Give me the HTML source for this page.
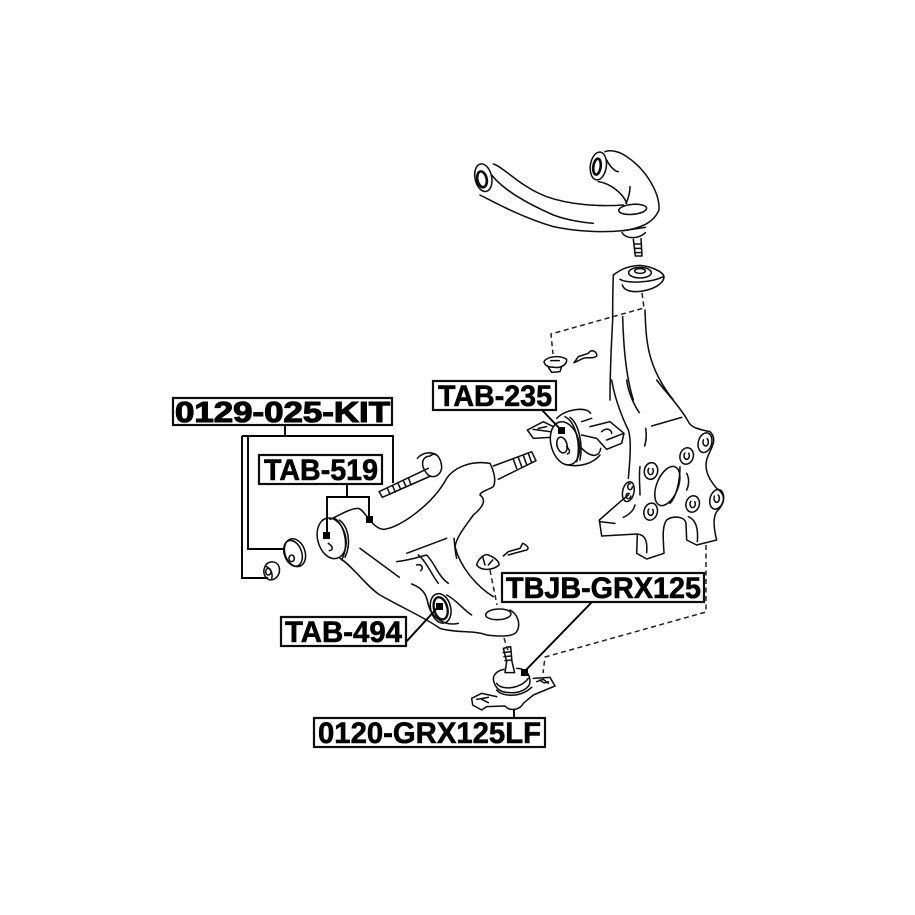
<!DOCTYPE html>
<html><head><meta charset="utf-8"><style>
html,body{margin:0;padding:0;background:#fff}
svg{display:block}
.l path,.l ellipse,.l circle{fill:none;stroke:#111;stroke-width:4.6;stroke-linecap:round;stroke-linejoin:round}
.l .h{stroke-dasharray:38 14}
.d{fill:none;stroke:#222;stroke-width:1.5;stroke-dasharray:5 3.5}
.c{fill:none;stroke:#000;stroke-width:1.9}
.b{fill:#fff;stroke:#111;stroke-width:2.2}
text{font-family:"Liberation Sans",sans-serif;font-weight:bold;fill:#000;stroke:#000;stroke-width:.6}
</style></head><body>
<svg width="915" height="915" viewBox="0 0 915 915" xmlns="http://www.w3.org/2000/svg">
<defs><filter id="s" x="-2%" y="-2%" width="104%" height="104%"><feGaussianBlur stdDeviation="0.35"/></filter></defs>
<rect width="915" height="915" fill="#fff"/>
<g filter="url(#s)">
<!-- upper arm + knuckle top -->
<g class="l" transform="translate(460,140) scale(.33333)">
<path d="M100,72C130,80 180,140 260,170C330,195 420,200 490,195"/>
<path d="M95,105C130,150 200,190 280,225C320,240 370,248 400,250"/>
<path d="M60,165C100,185 180,230 280,260C350,275 430,278 490,272C540,265 580,250 597,210C600,160 560,90 500,50C480,35 450,28 435,35"/>
<path d="M415,125C450,130 490,160 500,190M510,140C510,160 505,175 498,190M440,60C450,80 465,95 475,95"/>
<ellipse cx="70" cy="113" rx="25" ry="42" transform="rotate(-12 70 113)"/>
<ellipse cx="66" cy="118" rx="14" ry="24" transform="rotate(-12 66 118)" style="stroke-width:8"/>
<ellipse cx="415" cy="78" rx="24" ry="42" transform="rotate(8 415 78)"/>
<ellipse cx="411" cy="80" rx="11" ry="24" transform="rotate(8 411 80)" style="stroke-width:8"/>
<ellipse cx="518" cy="208" rx="42" ry="15" transform="rotate(-5 518 208)"/>
<path d="M486,278C500,298 535,298 556,278M490,272L556,262"/>
<path d="M520,298L526,348L546,348L543,296M522,312L544,312M523,325L545,325M524,338L546,338"/>
<path d="M460,405C480,390 500,378 540,376C570,378 610,395 612,410C612,430 580,452 530,455C500,455 490,445 487,435"/>
<path d="M480,418C500,430 570,430 610,410"/>
<ellipse cx="540" cy="398" rx="34" ry="16"/><ellipse cx="540" cy="393" rx="16" ry="7"/>
<path d="M460,405C458,450 458,500 458,540C455,600 450,680 450,780M488,530C490,600 495,700 520,780M555,510C558,600 560,680 640,780"/>
<path d="M252,665C262,648 300,645 320,658C322,675 300,685 285,682C265,682 255,678 252,665ZM265,682L275,697L300,695L305,680M272,662L298,662"/>
<path d="M342,668L355,650L385,640C395,625 412,635 410,648C400,658 380,650 370,655L342,668"/>
</g>
<path class="d" d="M642,293L644,308L551,334L553,354"/>
<!-- knuckle lower -->
<g class="l" transform="translate(500,380) scale(.33333)">
<path d="M335,0C345,60 370,120 385,150C395,180 390,240 385,295M380,0C385,40 405,80 418,98M470,0C500,40 540,80 565,125C575,145 600,148 630,155C650,175 640,195 625,225C610,260 620,290 650,325C680,345 675,370 650,395C640,410 640,440 650,480L590,495L560,480L558,430C555,410 520,405 500,420C485,440 490,480 492,520L440,537L410,520L412,462L305,468L298,420L355,370L385,345"/>
<path d="M455,138L545,112M437,145C440,165 438,185 434,198M420,260C416,290 420,320 420,345M405,375C400,395 385,405 370,412M298,425L345,430M412,462C440,465 442,490 440,518M565,410C590,420 595,450 592,485M540,260C540,300 530,350 510,370M560,280C570,300 565,320 560,330"/>
<ellipse cx="502" cy="318" rx="32" ry="62" transform="rotate(22 502 318)"/>
<ellipse cx="453" cy="273" rx="20" ry="25" transform="rotate(10 453 273)"/><ellipse class="h" cx="452" cy="273" rx="8" ry="11"/>
<ellipse cx="560" cy="228" rx="20" ry="25" transform="rotate(15 560 228)"/><ellipse class="h" cx="560" cy="227" rx="8" ry="11"/>
<ellipse cx="615" cy="188" rx="20" ry="30" transform="rotate(15 615 188)"/><ellipse class="h" cx="617" cy="186" rx="8" ry="12"/>
<ellipse cx="650" cy="358" rx="20" ry="30" transform="rotate(15 650 358)"/><ellipse class="h" cx="650" cy="355" rx="8" ry="12"/>
<ellipse cx="578" cy="372" rx="20" ry="25" transform="rotate(15 578 372)"/><ellipse class="h" cx="578" cy="372" rx="8" ry="11"/>
<ellipse cx="452" cy="395" rx="20" ry="26" transform="rotate(15 452 395)"/><ellipse class="h" cx="452" cy="395" rx="8" ry="11"/>
<ellipse cx="385" cy="335" rx="17" ry="30" transform="rotate(12 385 335)"/><ellipse class="h" cx="390" cy="320" rx="7" ry="9"/><ellipse class="h" cx="385" cy="348" rx="7" ry="8"/>
<!-- TAB-235 bushing and brackets -->
<path d="M150,172L100,175L82,150L130,125L160,140M100,148L150,155M115,145L140,140"/>
<path d="M270,140L330,125L372,160L365,190L320,208L290,175L245,165M320,180L372,160M305,155C320,140 335,150 335,160"/>
<path d="M245,125L275,115M170,115C200,85 260,80 272,100M245,205C280,240 300,225 302,205M205,255C240,262 280,250 300,225"/>
<ellipse cx="195" cy="190" rx="42" ry="66" transform="rotate(-15 195 190)"/>
<path d="M195,110C225,125 245,190 230,245M210,112C235,130 250,190 240,240"/>
<ellipse cx="186" cy="195" rx="15" ry="24" transform="rotate(-15 186 195)"/>
<path d="M200,200C210,210 212,218 202,222"/>
</g>
<!-- lower arm -->
<g class="l" transform="translate(300,440) scale(.33333)">
<path d="M90,238C120,225 150,205 175,205C195,210 215,265 250,268C300,265 400,190 440,115C460,85 510,60 570,70C580,90 590,120 580,140C565,150 540,155 540,165C560,180 550,200 520,225C495,260 470,290 465,320C480,380 530,440 580,470"/>
<path d="M120,355C160,380 200,440 240,465C300,500 370,530 420,565C470,580 520,570 560,585C600,590 640,590 650,575C665,550 650,520 630,510"/>
<ellipse cx="595" cy="523" rx="38" ry="16" transform="rotate(-3 595 523)"/>
<ellipse cx="95" cy="295" rx="42" ry="62" transform="rotate(-15 95 295)"/>
<path d="M105,235C130,255 150,310 125,360M118,240C145,260 155,310 135,352M85,310C100,320 100,330 88,332"/>
<path d="M180,325L298,412M320,340L440,295M290,365C330,360 360,350 380,345C405,370 415,410 445,430M355,345C380,365 395,405 415,430M462,295C465,320 465,335 470,355M350,375C365,370 372,385 362,392"/>
<path d="M335,432C370,445 380,465 385,495C395,530 430,560 475,550M440,465C470,480 490,510 515,525"/>
<ellipse cx="422" cy="505" rx="30" ry="45" transform="rotate(-15 422 505)"/>
<ellipse cx="422" cy="505" rx="20" ry="34" transform="rotate(-15 422 505)" style="stroke-width:7"/>
<!-- bolt -->
<path d="M237,155L385,85M247,172L392,108M238,156L247,172M262,145L270,163M278,138L286,156M294,130L302,148M310,122L318,140M326,115L332,132"/>
<path d="M390,48C410,30 425,60 425,85C420,110 395,118 380,100C360,75 365,50 390,48Z"/>
<path d="M352,55C370,35 395,35 410,45"/>
<!-- stud -->
<path d="M580,78L695,35L708,62L595,118M640,58L650,85M655,52L665,80M670,46L680,74M685,40L695,68"/>
<!-- nut and pin -->
<path d="M530,375C535,355 555,340 565,345C580,350 600,365 597,375C580,390 545,395 530,375ZM548,350L555,375M578,360L565,375"/>
<path d="M610,348L625,335L660,325L668,310C680,315 690,325 680,330L650,338L625,345"/>
</g>
<path class="d" d="M490,570L497,605"/>
<!-- washer & nut -->
<g class="l" transform="translate(165,390) scale(.33333)">
<ellipse cx="390" cy="488" rx="30" ry="43" transform="rotate(-20 390 488)"/>
<ellipse cx="384" cy="490" rx="26" ry="40" transform="rotate(-20 384 490)"/>
<ellipse cx="380" cy="505" rx="8" ry="10"/>
<path d="M300,530C305,512 335,510 342,530C348,550 335,570 315,570C298,565 292,545 300,530Z"/>
<path d="M305,530C315,535 325,550 320,565"/>
<ellipse cx="310" cy="545" rx="8" ry="10"/>
</g>
<!-- ball joint -->
<g class="l" transform="translate(300,600) scale(.33333)">
<path d="M610,145L632,140L636,185L644,218L615,218L620,185ZM610,158L632,155M612,170L634,168M615,182L635,180"/>
<path d="M612,208C590,212 580,225 580,238C585,265 600,278 630,278C660,280 690,265 690,245C690,220 675,205 650,205"/>
<path d="M590,250C600,270 660,270 685,235M590,270C605,290 660,295 695,262"/>
<path d="M590,290L545,280L515,295L518,315L545,330L560,320L615,318C630,335 660,330 670,310L700,285L765,258L750,232L700,235"/>
<path d="M530,298L565,292M545,298L565,308M710,245L730,238L745,250M720,240C730,250 735,250 745,245"/>
</g>
<path class="d" d="M706,545L706,612L545,657L543,673"/>
<path class="d" d="M504,638L508,650"/>
</g>
<!-- connectors -->
<g class="c">
<path d="M285,425V436M242,436H393V483M248,436V549H285M242,436V578H268"/>
<path d="M347,484V497M327,535V497H369V519"/>
<path d="M542,410L562,431"/>
<path d="M406,642L439,606"/>
<path d="M592,602L524,672"/>
<path d="M514,709V717"/>
</g>
<g fill="#000">
<rect x="323" y="532" width="7" height="7"/>
<rect x="366" y="516" width="7" height="7"/>
<rect x="558" y="427" width="7" height="7"/>
<rect x="436" y="603" width="7" height="7"/>
<rect x="521" y="669" width="7" height="7"/>
</g>
<!-- labels -->
<g filter="url(#s)">
<rect class="b" x="173" y="398" width="219" height="27"/>
<text x="175" y="422" font-size="29" textLength="215" lengthAdjust="spacingAndGlyphs" style="stroke-width:1.1">0129-025-KIT</text>
<rect class="b" x="259" y="455" width="123" height="29"/>
<text x="264" y="480" font-size="30" textLength="114" lengthAdjust="spacingAndGlyphs">TAB-519</text>
<rect class="b" x="433" y="381" width="123" height="29"/>
<text x="438" y="406" font-size="30" textLength="114" lengthAdjust="spacingAndGlyphs">TAB-235</text>
<rect class="b" x="281" y="617" width="125" height="29"/>
<text x="285" y="642" font-size="30" textLength="117" lengthAdjust="spacingAndGlyphs">TAB-494</text>
<rect class="b" x="502" y="573" width="202" height="29"/>
<text x="506" y="598" font-size="30" textLength="195" lengthAdjust="spacingAndGlyphs">TBJB-GRX125</text>
<rect class="b" x="314" y="718" width="231" height="29"/>
<text x="318" y="743" font-size="30" textLength="223" lengthAdjust="spacingAndGlyphs">0120-GRX125LF</text>
</g>
</svg>
</body></html>
